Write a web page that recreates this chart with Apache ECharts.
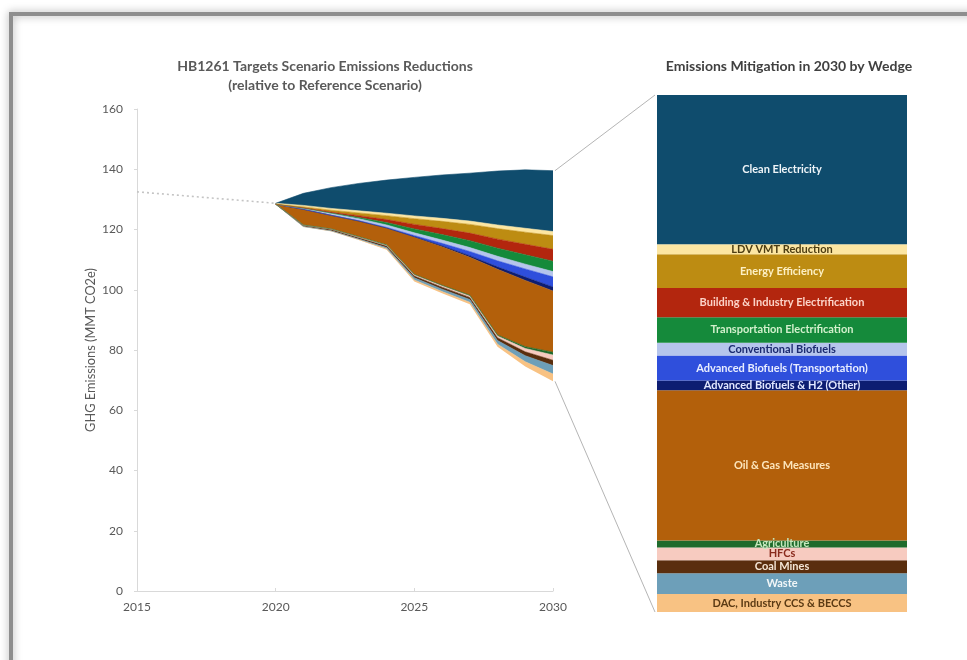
<!DOCTYPE html>
<html><head><meta charset="utf-8">
<script src="https://cdn.jsdelivr.net/npm/echarts@6/dist/echarts.min.js"></script>
<style>html,body{margin:0;padding:0;background:#fff;}#c{width:967px;height:660px;}</style>
</head><body><div id="c"></div>
<script>
// ---- data ----
const axisYears = [2015, 2016, 2017, 2018, 2019, 2020, 2021, 2022, 2023, 2024, 2025, 2026, 2027, 2028, 2029, 2030];
const years = [2020, 2021, 2022, 2023, 2024, 2025, 2026, 2027, 2028, 2029, 2030];
const refYears = [2015, 2020];
const refValues = [132.5, 128.7];
const target = [128.4, 120.9, 119.4, 116.5, 113.3, 102.7, 98.8, 95.2, 81.1, 74.5, 69.6];

const dac    = [0, 0.05, 0.1, 0.15, 0.3, 0.55, 0.6, 0.65, 0.85, 1.6, 2.42];
const waste  = [0, 0.05, 0.1, 0.2, 0.4, 0.7, 0.8, 0.9, 1.2, 2.0, 2.82];
const coal   = [0, 0.35, 0.4, 0.45, 0.5, 0.6, 0.65, 0.7, 0.9, 1.3, 1.75];
const hfc    = [0, 0.1, 0.15, 0.2, 0.3, 0.4, 0.45, 0.5, 0.6, 1.1, 1.75];
const agri   = [0, 0.05, 0.05, 0.1, 0.1, 0.15, 0.2, 0.25, 0.35, 0.6, 0.94];
const oilGas = [0, 5.2, 4.5, 5.2, 5.5, 12.3, 12.8, 12.6, 21.8, 22.0, 20.3];
const advH2  = [0, 0, 0, 0, 0.1, 0.2, 0.3, 0.5, 0.8, 1.1, 1.34];
const advT   = [0, 0, 0, 0.1, 0.2, 0.4, 0.8, 1.4, 2.0, 2.7, 3.36];
const conv   = [0, 0.3, 0.6, 0.7, 0.8, 0.9, 1.1, 1.3, 1.5, 1.6, 1.75];
const trans  = [0, 0.1, 0.2, 0.4, 0.8, 1.3, 1.8, 2.3, 2.7, 3.1, 3.45];
const build  = [0, 0.1, 0.3, 0.6, 1.0, 1.5, 2.0, 2.5, 3.0, 3.5, 3.94];
const ee     = [0, 0.3, 0.6, 0.9, 1.3, 1.9, 2.4, 2.9, 3.5, 4.0, 4.57];
const ldv    = [0.3, 0.5, 0.6, 0.7, 0.8, 0.9, 1.0, 1.1, 1.2, 1.3, 1.34];
const ce     = [0, 4.0, 6.9, 9.1, 11.0, 12.8, 14.4, 15.9, 17.9, 19.4, 20.2];

const yTicks = { min: 0, max: 160, interval: 20 };

// ---- wedges (bottom to top) ----
const wedges = [
  { name: 'DAC, Industry CCS & BECCS', data: dac, color: '#f8c283', text: '#5b3a14' },
  { name: 'Waste', data: waste, color: '#6d9fb9', text: '#f2f6f8' },
  { name: 'Coal Mines', data: coal, color: '#5a2e0e', text: '#f4e6d6' },
  { name: 'HFCs', data: hfc, color: '#f7cbc0', text: '#8a2a1c' },
  { name: 'Agriculture', data: agri, color: '#1f6b2c', text: '#c6e8bd' },
  { name: 'Oil & Gas Measures', data: oilGas, color: '#b3600b', text: '#fde6bd' },
  { name: 'Advanced Biofuels & H2 (Other)', data: advH2, color: '#0d1d72', text: '#e2e8ff' },
  { name: 'Advanced Biofuels (Transportation)', data: advT, color: '#2f4fdc', text: '#e8edff' },
  { name: 'Conventional Biofuels', data: conv, color: '#b5c5ec', text: '#1b2a70' },
  { name: 'Transportation Electrification', data: trans, color: '#158a3b', text: '#d2f0cc' },
  { name: 'Building & Industry Electrification', data: build, color: '#b3260e', text: '#fcd3c8' },
  { name: 'Energy Efficiency', data: ee, color: '#bd8c12', text: '#fdf0c4' },
  { name: 'LDV VMT Reduction', data: ldv, color: '#fce6a2', text: '#4d3d12' },
  { name: 'Clean Electricity', data: ce, color: '#0f4c6d', text: '#eef4f8' }
];

const FONT = 'Lato, "Open Sans", sans-serif';
const GRAY = '#595959';
const AXIS = '#d9d9d9';

const last = a => a[a.length - 1];
const barTotal = wedges.reduce((s, w) => s + last(w.data), 0);
const cats = axisYears.map(String);

// place a year-indexed array onto the full category axis (null where no data)
function onAxis(ys, vals) {
  return axisYears.map(y => { const i = ys.indexOf(y); return i >= 0 ? vals[i] : null; });
}

const series = [];
series.push({
  type: 'line', name: 'Reference (pre-2020)', xAxisIndex: 0, yAxisIndex: 0,
  data: onAxis(refYears, refValues), connectNulls: true, symbol: 'none',
  lineStyle: { type: [2, 3], color: '#c4c4c4', width: 1.6 }, z: 1
});
series.push({
  type: 'line', name: 'Target', xAxisIndex: 0, yAxisIndex: 0, stack: 'w',
  data: onAxis(years, target), symbol: 'none',
  lineStyle: { opacity: 0 }
});
wedges.forEach(w => {
  series.push({
    type: 'line', name: w.name, xAxisIndex: 0, yAxisIndex: 0, stack: 'w',
    data: onAxis(years, w.data), symbol: 'none',
    lineStyle: { width: 0.6, color: w.color },
    areaStyle: { color: w.color, opacity: 1 }, z: 2
  });
  series.push({
    type: 'bar', name: w.name + ' (2030)', xAxisIndex: 1, yAxisIndex: 1, stack: 'bar',
    barWidth: '100%', data: [last(w.data)],
    itemStyle: { color: w.color },
    label: { show: true, position: 'inside', formatter: w.name, color: w.text,
      fontSize: 11, fontWeight: 'bold', fontFamily: FONT }
  });
});

const G0 = { left: 137, right: 414, top: 109, bottom: 69 };
const G1 = { left: 657, width: 250, top: 95, bottom: 48 };

const chart = echarts.init(document.getElementById('c'));
chart.setOption({
  animation: false,
  backgroundColor: '#ffffff',
  grid: [G0, G1],
  xAxis: [
    { type: 'category', gridIndex: 0, data: cats, boundaryGap: false,
      axisLine: { show: true, lineStyle: { color: AXIS, width: 1 } },
      axisTick: { show: true, inside: true, length: 3, interval: 4, lineStyle: { color: AXIS } },
      splitLine: { show: false },
      axisLabel: { color: GRAY, fontSize: 12, fontFamily: FONT, margin: 10, interval: 4 } },
    { type: 'category', gridIndex: 1, data: ['2030'], show: false }
  ],
  yAxis: [
    { type: 'value', gridIndex: 0, min: yTicks.min, max: yTicks.max, interval: yTicks.interval,
      name: 'GHG Emissions (MMT CO2e)', nameLocation: 'middle', nameGap: 40, nameRotate: 90,
      nameTextStyle: { color: GRAY, fontSize: 12.8, fontFamily: FONT },
      axisLine: { show: true, lineStyle: { color: AXIS, width: 1 } },
      axisTick: { show: true, length: 3, lineStyle: { color: AXIS } },
      splitLine: { show: false },
      axisLabel: { color: GRAY, fontSize: 12, fontFamily: FONT, margin: 14 } },
    { type: 'value', gridIndex: 1, min: 0, max: barTotal, show: false }
  ],
  series: series
});

const pTop = chart.convertToPixel({ gridIndex: 0 }, [String(last(years)), last(target) + barTotal]);
const pBot = chart.convertToPixel({ gridIndex: 0 }, [String(last(years)), last(target)]);
const bTop = chart.convertToPixel({ gridIndex: 1 }, ['2030', barTotal]);
const bBot = chart.convertToPixel({ gridIndex: 1 }, ['2030', 0]);
const barLeft = G1.left;

chart.setOption({
  graphic: [
    { type: 'rect', z: -10, silent: true,
      shape: { x: 11, y: 14, width: 975, height: 680 },
      style: { fill: 'none', stroke: '#8e8e8e', lineWidth: 4,
        shadowBlur: 8, shadowColor: 'rgba(0,0,0,0.35)' } },
    { type: 'text', x: 325, y: 66, z: 10,
      style: { text: 'HB1261 Targets Scenario Emissions Reductions', align: 'center', verticalAlign: 'middle',
        fill: GRAY, fontSize: 14, fontWeight: 'bold', fontFamily: FONT } },
    { type: 'text', x: 325, y: 85, z: 10,
      style: { text: '(relative to Reference Scenario)', align: 'center', verticalAlign: 'middle',
        fill: GRAY, fontSize: 14, fontWeight: 'bold', fontFamily: FONT } },
    { type: 'text', x: 789, y: 66, z: 10,
      style: { text: 'Emissions Mitigation in 2030 by Wedge', align: 'center', verticalAlign: 'middle',
        fill: '#404040', fontSize: 14, fontWeight: 'bold', fontFamily: FONT } },
    { type: 'line', z: 5, silent: true,
      shape: { x1: pTop[0] + 2, y1: pTop[1], x2: barLeft - 2, y2: bTop[1] },
      style: { stroke: '#b5b5b5', lineWidth: 1 } },
    { type: 'line', z: 5, silent: true,
      shape: { x1: pBot[0] + 2, y1: pBot[1], x2: barLeft - 2, y2: bBot[1] },
      style: { stroke: '#b5b5b5', lineWidth: 1 } }
  ]
});
</script>
</body></html>
